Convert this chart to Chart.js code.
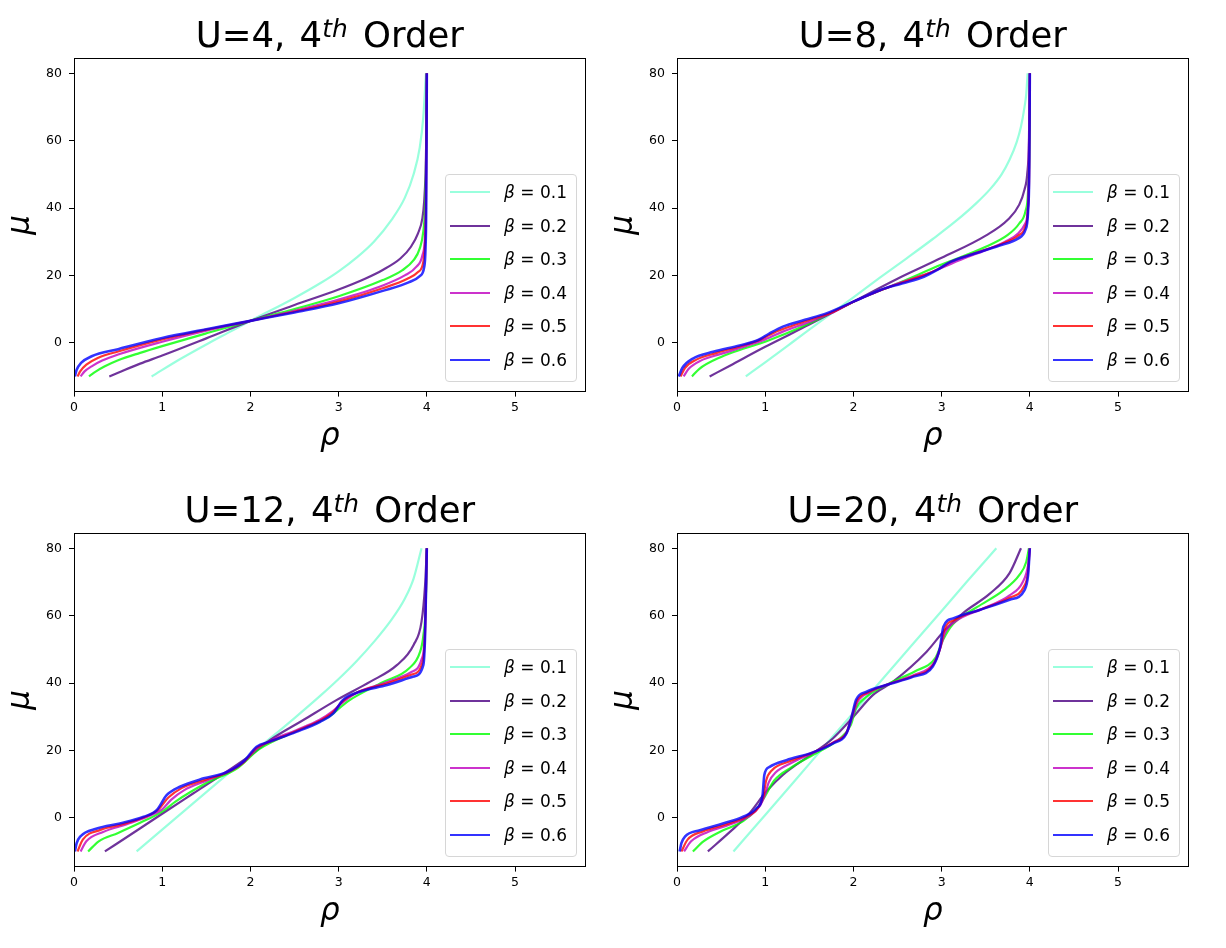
<!DOCTYPE html>
<html><head><meta charset="utf-8">
<script src="https://cdn.jsdelivr.net/npm/chart.js@4.4.1/dist/chart.umd.min.js"></script>
<style>
body{margin:0;background:#fff;}
#fig{position:relative;width:1226px;height:948px;overflow:hidden;font-family:'DejaVu Sans',sans-serif;color:#000;}
.panel{position:absolute;width:600px;height:470px;}
.panel canvas{position:absolute;left:0;top:0;}
.ttl{position:absolute;left:74px;width:511.6px;text-align:center;font-size:35.5px;line-height:1;top:17.3px;white-space:pre;}
.ttl .mm{margin-left:3px;margin-right:4px;}
.ttl .m{font-style:italic;font-size:0.7em;line-height:0;vertical-align:0.42em;}
.leg{position:absolute;left:445px;top:174px;width:132px;height:208px;box-sizing:border-box;border:1px solid #d6d6d6;border-radius:4px;background:rgba(255,255,255,0.8);}
.row{position:absolute;left:0;height:20px;width:130px;}
.hd{position:absolute;left:4px;width:40px;height:2px;top:9px;}
.lt{position:absolute;left:58px;top:0;font-size:17px;line-height:20px;white-space:nowrap;}
.lt i{font-style:italic;}
</style></head>
<body>
<div id="fig"></div>
<script>
// ---- data ----
const PANEL_U = [4, 8, 12, 20];
const BETAS = ['0.1', '0.2', '0.3', '0.4', '0.5', '0.6'];
const COLORS = ['rgba(127,255,212,0.8)', 'rgba(75,0,130,0.8)', 'rgba(0,255,0,0.8)',
                'rgba(191,0,191,0.8)', 'rgba(255,0,0,0.8)', 'rgba(0,0,255,0.8)'];
const X_TICKS = [0, 1, 2, 3, 4, 5];
const Y_TICKS = [0, 20, 40, 60, 80];
const X_RANGE = [0, 5.8];
const Y_RANGE = [-14.5, 84.5];

// each curve: [rho, mu] pairs
// U = 4
const U4_b01 = [[0.88,-10],[1.2,-4.9],[1.5,-0.5],[1.75,3.0],[2.0,6.5],[2.5,13.3],[2.8,17.8],[3.0,21.2],[3.2,25.2],[3.4,30.0],[3.6,36.5],[3.75,43],[3.85,50],[3.92,58],[3.96,67],[3.99,80]];
const U4_b02 = [[0.4,-10],[0.5,-8.9],[0.75,-6.2],[1.0,-3.8],[1.5,1.3],[2.0,6.5],[2.5,11.2],[3.0,15.8],[3.3,19.0],[3.5,21.6],[3.7,25],[3.82,28.5],[3.9,32.5],[3.95,37],[3.97,42],[3.985,50],[3.993,60],[4.0,80]];
const U4_b03 = [[0.17,-10],[0.25,-8.5],[0.35,-7],[0.5,-5.2],[0.75,-3.0],[1.0,-1.0],[1.5,2.8],[2.0,6.5],[2.5,10.0],[3.0,13.8],[3.5,18.6],[3.72,21.5],[3.85,24.5],[3.92,28],[3.96,33],[3.98,40],[3.99,50],[4.0,80]];
const U4_b04 = [[0.075,-10],[0.12,-8.5],[0.2,-7],[0.32,-5.3],[0.5,-3.5],[1.0,0.3],[1.5,3.6],[2.0,6.5],[2.5,9.5],[3.0,12.8],[3.5,17.0],[3.75,20.0],[3.88,22.5],[3.95,26],[3.98,32],[3.99,42],[4.0,80]];
const U4_b05 = [[0.04,-10],[0.07,-8.5],[0.14,-6.5],[0.27,-4.5],[0.5,-2.6],[1.0,1.0],[1.5,3.9],[2.0,6.5],[2.5,9.2],[3.0,12.2],[3.5,16.2],[3.78,19.0],[3.9,21],[3.96,24],[3.98,30],[3.99,40],[4.0,80]];
const U4_b06 = [[0.01,-10],[0.03,-8],[0.08,-6],[0.2,-4],[0.5,-1.9],[1.0,1.4],[1.5,4.0],[2.0,6.5],[2.5,9.0],[3.0,11.7],[3.5,15.4],[3.8,18.0],[3.92,19.8],[3.97,22.5],[3.985,28],[3.993,40],[4.0,80]];
// U = 8
const U8_b01 = [[0.78,-10],[1.0,-5.8],[1.3,0],[1.65,6.8],[2.0,13.5],[2.3,19.3],[2.6,25.0],[2.9,30.8],[3.17,36.3],[3.4,41.6],[3.55,45.6],[3.68,50],[3.77,54.3],[3.85,59.5],[3.9,64.2],[3.94,70],[3.96,74],[3.975,80]];
const U8_b02 = [[0.37,-10],[0.6,-6.8],[1.0,-1.2],[1.5,5.4],[2.0,12.2],[2.5,19.0],[3.0,25.2],[3.5,31.8],[3.75,36.5],[3.88,41.0],[3.94,45.5],[3.97,50],[3.99,60],[4.0,80]];
const U8_b03 = [[0.17,-10],[0.25,-7.8],[0.5,-4.2],[0.75,-1.8],[1.0,0.3],[1.5,5.7],[2.0,12.2],[2.5,17.6],[3.0,23.2],[3.5,28.5],[3.75,32],[3.88,35.4],[3.95,39],[3.98,45],[3.995,60],[4.0,80]];
const U8_b04 = [[0.075,-10],[0.13,-7.8],[0.27,-5.3],[0.5,-3.3],[0.8,-0.8],[1.0,1.0],[1.2,3.3],[1.5,6.2],[1.75,8.8],[2.0,12.2],[2.3,15.5],[2.55,18.0],[2.85,20.6],[3.05,22.8],[3.25,25],[3.5,27.5],[3.72,30],[3.87,32.5],[3.95,35.5],[3.98,41],[4.0,80]];
const U8_b05 = [[0.04,-10],[0.09,-7.5],[0.22,-5.0],[0.45,-3.0],[0.75,-0.8],[0.95,1.0],[1.1,3.0],[1.3,5.0],[1.55,7.2],[1.75,9.0],[2.0,12.2],[2.3,15.5],[2.55,17.8],[2.8,20.0],[2.97,22.0],[3.12,24.2],[3.4,26.8],[3.68,29.3],[3.87,31.8],[3.95,34.5],[3.98,40],[3.995,55],[4.0,80]];
const U8_b06 = [[0.02,-10],[0.06,-7.5],[0.18,-4.7],[0.41,-2.7],[0.71,-0.8],[0.92,0.8],[1.05,2.8],[1.2,4.8],[1.45,6.8],[1.7,8.8],[2.0,12.2],[2.3,15.6],[2.55,17.6],[2.8,19.6],[2.95,21.6],[3.1,24],[3.35,26.3],[3.65,28.8],[3.87,31],[3.95,33.5],[3.98,39],[3.995,55],[4.0,80]];
// U = 12
const U12_b01 = [[0.71,-10],[1.0,-3.5],[1.5,7.6],[2.0,18.7],[2.5,29.6],[2.8,36.4],[3.0,41.2],[3.2,46.4],[3.4,52.2],[3.6,58.8],[3.75,65],[3.85,71],[3.94,80]];
const U12_b02 = [[0.35,-10],[0.7,-4],[1.0,1.2],[1.35,7.2],[1.73,13.7],[2.0,18.5],[2.22,23],[2.6,29],[2.98,35],[3.36,40.4],[3.66,45.3],[3.85,51.3],[3.94,58.2],[3.98,69],[4.0,80]];
const U12_b03 = [[0.16,-10],[0.28,-7],[0.5,-4.5],[0.75,-1.5],[1.0,1.8],[1.15,4.8],[1.5,10.3],[1.85,14.7],[2.1,20.4],[2.5,25.5],[2.9,30.2],[3.1,34.5],[3.5,40.2],[3.8,44.4],[3.92,49],[3.96,54],[3.99,65],[4.0,80]];
const U12_b04 = [[0.075,-10],[0.14,-7],[0.33,-4.2],[0.6,-1.9],[0.85,0.5],[1.0,2.5],[1.1,5.3],[1.25,8.2],[1.5,11],[1.75,13.8],[1.93,16.8],[2.08,20.6],[2.22,22.8],[2.52,26],[2.78,29],[2.93,31.6],[3.05,34.3],[3.22,37.3],[3.52,40],[3.82,43.2],[3.94,47],[3.98,56],[4.0,80]];
const U12_b05 = [[0.04,-10],[0.1,-6.5],[0.3,-3.6],[0.55,-1.9],[0.8,0.2],[0.95,2.3],[1.07,6.0],[1.22,8.8],[1.5,11.4],[1.75,13.6],[1.93,16.6],[2.07,20.8],[2.22,22.6],[2.52,25.7],[2.78,28.7],[2.93,31.2],[3.05,34.7],[3.22,37.3],[3.53,39.7],[3.83,42.5],[3.95,46],[3.98,55],[4.0,80]];
const U12_b06 = [[0.01,-10],[0.03,-7.5],[0.07,-5.6],[0.26,-3.2],[0.52,-1.7],[0.79,0.3],[0.94,2.3],[1.05,6.7],[1.2,9.2],[1.47,11.7],[1.73,13.5],[1.92,16.6],[2.07,21.1],[2.22,22.6],[2.52,25.5],[2.79,28.5],[2.94,31],[3.05,35],[3.24,37.4],[3.55,39.4],[3.85,41.9],[3.96,45.3],[3.98,54],[4.0,80]];
// U = 20
const U20_b01 = [[0.64,-10],[1.0,0.8],[1.5,16],[2.0,31.2],[2.5,46.3],[3.0,61.4],[3.3,70.5],[3.62,80]];
const U20_b02 = [[0.35,-10],[0.6,-4.2],[0.82,1.3],[1.01,7.7],[1.2,12.7],[1.54,19.1],[1.77,23.6],[2.0,30],[2.22,36.4],[2.45,40.4],[2.83,49.3],[3.02,55.2],[3.24,60.7],[3.55,66.6],[3.77,72.6],[3.9,80]];
const U20_b03 = [[0.18,-10],[0.3,-7],[0.5,-4],[0.75,-1],[0.9,2.5],[1.0,6.5],[1.1,11],[1.3,15],[1.6,19.5],[1.85,23.6],[1.97,27.5],[2.03,32.5],[2.15,36],[2.4,39.8],[2.7,43.5],[2.93,47.5],[3.02,53],[3.13,57.5],[3.4,62.5],[3.7,67.5],[3.88,72],[3.96,76],[3.99,80]];
const U20_b04 = [[0.08,-10],[0.16,-7],[0.35,-4.2],[0.6,-2.0],[0.82,0.5],[0.94,3.5],[1.0,7],[1.04,10.5],[1.12,13.5],[1.3,16.3],[1.57,19.6],[1.78,22.5],[1.93,25.5],[1.99,30],[2.05,34.5],[2.18,37.2],[2.4,39.7],[2.7,42.5],[2.9,45.5],[2.98,50],[3.04,55],[3.17,58.5],[3.46,62],[3.77,66],[3.92,70],[3.98,75],[4.0,80]];
const U20_b05 = [[0.05,-10],[0.12,-6.5],[0.3,-4.0],[0.55,-2.0],[0.78,0.3],[0.92,3],[0.98,6.5],[1.01,11],[1.08,14.2],[1.27,16.7],[1.55,19.5],[1.77,22.3],[1.92,25.2],[1.98,30],[2.04,34.8],[2.17,37.3],[2.38,39.5],[2.68,42.1],[2.9,45.2],[2.98,50],[3.03,55.8],[3.15,58.8],[3.44,61.8],[3.77,65.3],[3.93,68.5],[3.98,73],[4.0,80]];
const U20_b06 = [[0.03,-10],[0.05,-7.5],[0.09,-5.6],[0.26,-3.7],[0.52,-1.7],[0.75,0.3],[0.9,2.8],[0.97,6.7],[0.99,12.7],[1.05,15.1],[1.24,17.1],[1.54,19.4],[1.77,22.1],[1.92,25],[1.98,30],[2.03,35],[2.15,37.4],[2.37,39.4],[2.68,41.9],[2.9,44.9],[2.98,50.3],[3.02,56.7],[3.13,59.2],[3.43,61.7],[3.77,64.7],[3.94,67.6],[3.98,72],[4.0,80]];

const PANEL_CURVES = [
  [U4_b01, U4_b02, U4_b03, U4_b04, U4_b05, U4_b06],
  [U8_b01, U8_b02, U8_b03, U8_b04, U8_b05, U8_b06],
  [U12_b01, U12_b02, U12_b03, U12_b04, U12_b05, U12_b06],
  [U20_b01, U20_b02, U20_b03, U20_b04, U20_b05, U20_b06]
];

// ---- layout ----
const PANEL_POS = [[0, 0], [603, 0], [0, 475], [603, 475]];
const FONT = "'DejaVu Sans', sans-serif";

const framePlugin = {
  id: 'frame',
  afterDraw(chart) {
    const {ctx, chartArea: a} = chart;
    ctx.save();
    ctx.strokeStyle = '#000';
    ctx.lineWidth = 1;
    const l = Math.round(a.left) + 0.5, t = Math.round(a.top) + 0.5;
    const r = Math.round(a.right) - 0.5, b = Math.round(a.bottom) - 0.5;
    ctx.strokeRect(l, t, r - l, b - t);
    ctx.restore();
  }
};

const fig = document.getElementById('fig');
PANEL_U.forEach((U, p) => {
  const panel = document.createElement('div');
  panel.className = 'panel';
  panel.style.left = PANEL_POS[p][0] + 'px';
  panel.style.top = PANEL_POS[p][1] + 'px';
  const cv = document.createElement('canvas');
  cv.width = 600; cv.height = 470;
  panel.appendChild(cv);

  const ttl = document.createElement('div');
  ttl.className = 'ttl';
  ttl.innerHTML = 'U=' + U + ', <span class="mm">4<span class="m">th</span></span> Order';
  panel.appendChild(ttl);

  const leg = document.createElement('div');
  leg.className = 'leg';
  BETAS.forEach((b, i) => {
    const row = document.createElement('div');
    row.className = 'row';
    row.style.top = Math.round(18.2 + 33.5 * i - 11) + 'px';
    row.innerHTML = '<div class="hd" style="background:' + COLORS[i] + '"></div>' +
                    '<div class="lt"><i>β</i> = ' + b + '</div>';
    leg.appendChild(row);
  });
  panel.appendChild(leg);
  fig.appendChild(panel);

  const datasets = PANEL_CURVES[p].map((pts, i) => ({
    label: 'β = ' + BETAS[i],
    data: pts.map(q => ({x: q[0], y: q[1]})),
    borderColor: COLORS[i],
    backgroundColor: COLORS[i],
    borderWidth: i === 5 ? 2.6 : 2.2,
    pointRadius: 0,
    showLine: true,
    fill: false,
    cubicInterpolationMode: 'monotone',
    order: 6 - i
  }));

  const tickFont = {family: FONT, size: 12.5};
  new Chart(cv, {
    type: 'scatter',
    data: {datasets},
    options: {
      responsive: false,
      animation: false,
      events: [],
      layout: {padding: {left: 0, top: 58.1, right: 14.4, bottom: 17.6}},
      plugins: {legend: {display: false}, tooltip: {enabled: false}, title: {display: false}},
      scales: {
        x: {
          type: 'linear', min: X_RANGE[0], max: X_RANGE[1],
          afterFit: s => { s.height = 60.8; },
          afterBuildTicks: s => { s.ticks = X_TICKS.map(v => ({value: v})); },
          ticks: {font: tickFont, color: '#000', padding: 4, maxRotation: 0, autoSkip: false},
          grid: {display: true, drawOnChartArea: false, drawTicks: true, tickLength: 5, tickColor: '#000', tickWidth: 1},
          border: {display: true, color: '#000', width: 1},
          title: {display: true, text: 'ρ', color: '#000',
                  font: {family: FONT, style: 'italic', size: 31, lineHeight: 1},
                  padding: {top: 0, bottom: 0}}
        },
        y: {
          type: 'linear', min: Y_RANGE[0], max: Y_RANGE[1],
          afterFit: s => { s.width = 74; },
          afterBuildTicks: s => { s.ticks = Y_TICKS.map(v => ({value: v})); },
          ticks: {font: tickFont, color: '#000', padding: 7, autoSkip: false},
          grid: {display: true, drawOnChartArea: false, drawTicks: true, tickLength: 5, tickColor: '#000', tickWidth: 1},
          border: {display: true, color: '#000', width: 1},
          title: {display: true, text: 'μ', color: '#000',
                  font: {family: FONT, style: 'italic', size: 31, lineHeight: 1},
                  padding: {top: 5, bottom: 0}}
        }
      }
    },
    plugins: [framePlugin]
  });
});
</script>
</body></html>
